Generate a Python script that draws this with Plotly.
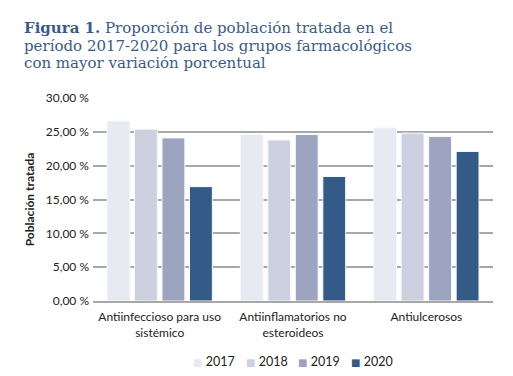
import plotly.graph_objects as go

categories = ["Antiinfeccioso para uso<br>sistémico", "Antiinflamatorios no<br>esteroideos", "Antiulcerosos"]
years = ["2017", "2018", "2019", "2020"]
values = {
    "2017": [26.6, 24.6, 25.6],
    "2018": [25.4, 23.8, 24.8],
    "2019": [24.1, 24.6, 24.3],
    "2020": [16.9, 18.4, 22.1],
}
colors = {"2017": "#E8EAF1", "2018": "#CDD1DF", "2019": "#9CA4BF", "2020": "#345A87"}
tick_vals = [0, 5, 10, 15, 20, 25, 30]
tick_text = [f"{v:.2f}".replace(".", ",") + " %" for v in tick_vals]
title_lines = [
    "<b>Figura 1.</b> Proporción de población tratada en el",
    "período 2017-2020 para los grupos farmacológicos",
    "con mayor variación porcentual",
]

# page body has an 8px margin; figure kept inside the window
OFF = 8
W, H = 513 - 2 * OFF, 376 - 2 * OFF
L, R, T, B = 93 - OFF, W - (493 - OFF), 98 - OFF, H - (301 - OFF)
pw, ph = W - L - R, H - T - B


def px_x(x):
    return (x - OFF - L) / pw


def px_y(y):
    return (H - B - (y - OFF)) / ph


fig = go.Figure()
for y in years:
    fig.add_trace(go.Bar(
        x=categories, y=values[y], name=y,
        marker=dict(color=colors[y], line=dict(color="#F7F8FB", width=1)),
        showlegend=False,
    ))

for i, line in enumerate(title_lines):
    fig.add_annotation(
        text=line, xref="paper", yref="paper",
        x=px_x(22), y=px_y(28 + i * 17.5),
        xanchor="left", yanchor="middle", showarrow=False,
        font=dict(family="DejaVu Serif, serif", size=15, color="#3A5A8C"),
    )

legend_x = [191, 244, 296, 349]
for y, lx in zip(years, legend_x):
    fig.add_annotation(
        text=f"<span style='font-size:10px;color:{colors[y]}'>■</span> {y}",
        xref="paper", yref="paper", x=px_x(lx), y=px_y(361),
        xanchor="left", yanchor="middle", showarrow=False,
        font=dict(family="Lato, DejaVu Sans, sans-serif", size=12.5, color="#222"),
    )

fig.update_layout(
    width=W, height=H,
    margin=dict(l=L, r=R, t=T, b=B),
    paper_bgcolor="white", plot_bgcolor="white",
    barmode="group", bargap=0.175, bargroupgap=0.17,
    font=dict(family="Lato, Open Sans, sans-serif", size=12, color="#222"),
    showlegend=False,
)
fig.update_yaxes(
    range=[0, 30], tickvals=tick_vals, ticktext=tick_text, automargin=False,
    showgrid=True, gridcolor="#A8A8A8", gridwidth=1.6, zeroline=False,
    showline=False, ticks="", ticklabelstandoff=3, tickfont=dict(size=12, color="#222"),
    title=dict(text="<b>Población tratada</b>", font=dict(size=12, color="#222"), standoff=8),
)
fig.update_xaxes(showline=True, linecolor="#A8A8A8", linewidth=1.6, ticks="", automargin=False,
                 ticklabelstandoff=4, tickfont=dict(size=12, color="#222"))

fig.write_html("out.html")
